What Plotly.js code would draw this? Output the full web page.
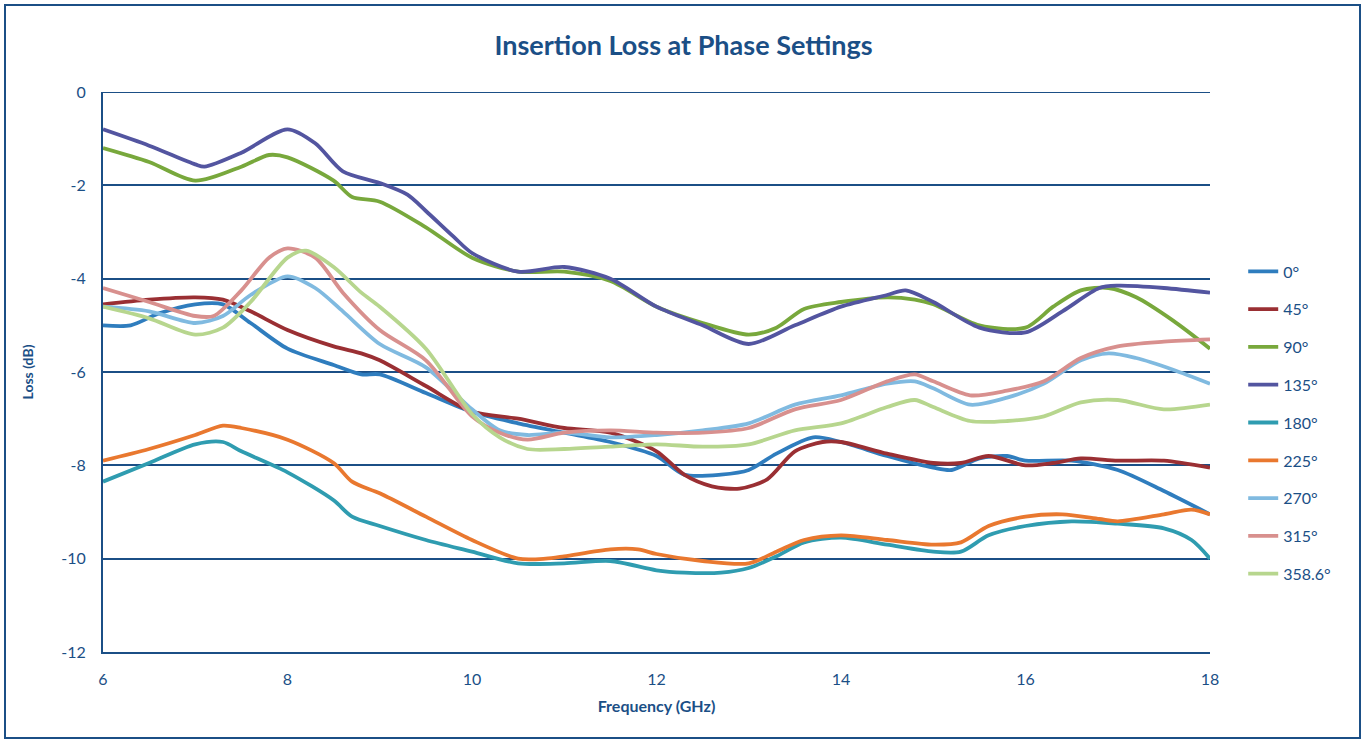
<!DOCTYPE html>
<html><head><meta charset="utf-8">
<script src="https://cdn.plot.ly/plotly-3.0.1.min.js"></script>
<style>html,body{margin:0;padding:0;background:#fff;}#chart{width:1367px;height:742px;}</style>
</head><body><div id="chart"></div>
<script>
const seriesNames = ["0°","45°","90°","135°","180°","225°","270°","315°","358.6°"];
const seriesColors = ["#2F7DBE","#9A2F33","#78A83C","#5355A0","#2F9CB0","#E9782F","#80BAE0","#D8908E","#B7D68E"];

const f0 = [6,6.3,6.6,7,7.3,7.6,8,8.5,8.8,9,9.5,10,10.5,11,11.5,12,12.3,12.7,13,13.3,13.7,14,14.5,15,15.2,15.5,15.8,16,16.5,17,17.5,18];
const y0 = [-5.0,-5.0,-4.75,-4.55,-4.55,-4.95,-5.5,-5.85,-6.05,-6.05,-6.45,-6.85,-7.1,-7.3,-7.5,-7.8,-8.2,-8.2,-8.1,-7.75,-7.4,-7.5,-7.8,-8.05,-8.1,-7.85,-7.8,-7.9,-7.9,-8.1,-8.55,-9.05];

const f45 = [6,6.5,7,7.3,7.6,8,8.5,8.8,9,9.5,10,10.5,11,11.5,12,12.3,12.6,12.9,13.2,13.5,13.8,14,14.5,15,15.3,15.6,16,16.3,16.6,17,17.5,18];
const y45 = [-4.55,-4.45,-4.4,-4.45,-4.7,-5.1,-5.45,-5.6,-5.75,-6.3,-6.85,-7.0,-7.2,-7.3,-7.7,-8.2,-8.45,-8.5,-8.3,-7.7,-7.5,-7.5,-7.75,-7.95,-7.95,-7.8,-8.0,-7.95,-7.85,-7.9,-7.9,-8.05];

const f90 = [6,6.5,7,7.5,7.8,8,8.5,8.7,9,9.5,10,10.5,11,11.5,12,12.5,13,13.3,13.6,14,14.5,14.8,15,15.5,16,16.3,16.6,16.9,17.2,17.6,18];
const y90 = [-1.2,-1.5,-1.9,-1.6,-1.35,-1.4,-1.9,-2.25,-2.35,-2.9,-3.55,-3.85,-3.85,-4.05,-4.6,-4.95,-5.2,-5.05,-4.65,-4.5,-4.4,-4.45,-4.55,-5.0,-5.05,-4.6,-4.25,-4.2,-4.4,-4.9,-5.5];

const f135 = [6,6.5,7,7.1,7.5,8,8.3,8.6,9,9.3,9.5,9.8,10,10.5,11,11.5,12,12.5,13,13.5,14,14.5,14.7,15,15.5,16,16.4,16.8,17,17.5,18];
const y135 = [-0.8,-1.15,-1.55,-1.6,-1.3,-0.8,-1.1,-1.7,-1.95,-2.2,-2.55,-3.1,-3.45,-3.85,-3.75,-4.0,-4.6,-5.0,-5.4,-5.0,-4.6,-4.35,-4.25,-4.5,-5.05,-5.15,-4.7,-4.2,-4.15,-4.2,-4.3];

const f180 = [6,6.5,7,7.3,7.5,8,8.5,8.7,9,9.5,10,10.5,11,11.5,12,12.3,12.7,13,13.3,13.6,14,14.5,15,15.3,15.6,16,16.5,17,17.5,17.8,18];
const y180 = [-8.35,-7.95,-7.55,-7.5,-7.7,-8.15,-8.75,-9.1,-9.3,-9.6,-9.85,-10.1,-10.1,-10.05,-10.25,-10.3,-10.3,-10.2,-9.95,-9.65,-9.55,-9.7,-9.85,-9.85,-9.5,-9.3,-9.2,-9.25,-9.35,-9.6,-10.0];

const f225 = [6,6.5,7,7.3,7.5,8,8.5,8.7,9,9.5,10,10.5,10.8,11,11.5,11.8,12,12.5,13,13.3,13.6,14,14.5,15,15.3,15.6,16,16.4,16.8,17,17.5,17.8,18];
const y225 = [-7.9,-7.65,-7.35,-7.15,-7.2,-7.45,-7.95,-8.35,-8.6,-9.1,-9.6,-10.0,-10.0,-9.95,-9.8,-9.8,-9.9,-10.05,-10.1,-9.85,-9.6,-9.5,-9.6,-9.7,-9.65,-9.3,-9.1,-9.05,-9.15,-9.2,-9.05,-8.95,-9.05];

const f270 = [6,6.5,7,7.3,7.6,8,8.3,8.6,9,9.5,10,10.3,10.6,11,11.5,12,12.5,13,13.5,14,14.5,14.8,15,15.4,15.8,16.2,16.6,16.9,17.2,17.6,18];
const y270 = [-4.6,-4.7,-4.95,-4.8,-4.35,-3.95,-4.2,-4.7,-5.4,-5.9,-6.8,-7.25,-7.35,-7.3,-7.4,-7.35,-7.25,-7.1,-6.7,-6.5,-6.25,-6.2,-6.35,-6.7,-6.55,-6.25,-5.75,-5.6,-5.7,-5.95,-6.25];

const f315 = [6,6.5,7,7.2,7.5,7.8,8,8.3,8.6,9,9.5,10,10.3,10.6,11,11.5,12,12.5,13,13.5,14,14.5,14.8,15,15.4,15.8,16.2,16.6,17,17.5,18];
const y315 = [-4.2,-4.5,-4.8,-4.8,-4.25,-3.55,-3.35,-3.55,-4.3,-5.1,-5.75,-6.95,-7.3,-7.45,-7.3,-7.25,-7.3,-7.3,-7.2,-6.8,-6.6,-6.2,-6.05,-6.2,-6.5,-6.4,-6.2,-5.7,-5.45,-5.35,-5.3];

const f358 = [6,6.5,7,7.3,7.6,8,8.2,8.5,8.8,9,9.5,10,10.3,10.6,11,11.5,12,12.5,13,13.5,14,14.5,14.8,15,15.4,15.8,16.2,16.6,17,17.5,18];
const y358 = [-4.6,-4.85,-5.2,-5.05,-4.5,-3.55,-3.4,-3.75,-4.3,-4.6,-5.5,-6.9,-7.4,-7.65,-7.65,-7.6,-7.55,-7.6,-7.55,-7.25,-7.1,-6.75,-6.6,-6.75,-7.05,-7.05,-6.95,-6.65,-6.6,-6.8,-6.7];

const xTicks = [6,8,10,12,14,16,18];
const yTicks = [0,-2,-4,-6,-8,-10,-12];

const xs = [f0,f45,f90,f135,f180,f225,f270,f315,f358];
const ys = [y0,y45,y90,y135,y180,y225,y270,y315,y358];

const navy = "#1B4F86";
const fontFam = "Lato, 'Open Sans', sans-serif";

const traces = seriesNames.map((n,i)=>({
  type:"scatter", mode:"lines", name:n, x:xs[i], y:ys[i],
  line:{color:seriesColors[i], width:3.8, shape:"spline", smoothing:0.8},
  legendgroup:"g"+i
}));

const layout = {
  width:1367, height:742,
  paper_bgcolor:"#fff", plot_bgcolor:"#fff",
  margin:{l:103, r:157, t:92, b:90},
  font:{family:fontFam, color:navy},
  title:{text:"<b>Insertion Loss at Phase Settings</b>", font:{size:27, color:navy, family:fontFam},
         x:0.5, xref:"container", y:0.938, yref:"container", yanchor:"middle", xanchor:"center"},
  showlegend:true,
  legend:{x:1.03, xanchor:"left", y:0.71, yanchor:"top", traceorder:"grouped", tracegroupgap:14,
          font:{size:16, color:navy, family:fontFam}, bgcolor:"rgba(0,0,0,0)"},
  xaxis:{range:[6,18], tickvals:xTicks, ticktext:xTicks.map(String), showgrid:false, zeroline:false,
         showline:true, linecolor:navy, linewidth:2, ticks:"", ticklabelstandoff:12,
         tickfont:{size:16, color:navy},
         title:{text:"<b>Frequency (GHz)</b>", font:{size:16, color:navy}, standoff:14}},
  yaxis:{range:[-12,0], tickvals:yTicks, ticktext:yTicks.map(String), showgrid:true, gridcolor:navy, gridwidth:2,
         zeroline:false, showline:true, linecolor:navy, linewidth:2, ticks:"", ticklabelstandoff:12,
         tickfont:{size:16, color:navy},
         title:{text:"<b>Loss (dB)</b>", font:{size:14, color:navy}, standoff:24}},
  shapes:[
    {type:"line", xref:"paper", yref:"y", x0:0, x1:1, y0:0, y1:0, line:{color:navy, width:2}},
    {type:"rect", xref:"paper", yref:"paper",
     x0:(5-103)/1107, x1:(1360-103)/1107, y0:(652-738)/560, y1:(652-5)/560,
     line:{color:navy, width:2}}
  ]
};

Plotly.newPlot("chart", traces, layout, {displayModeBar:false, staticPlot:true});
</script></body></html>
